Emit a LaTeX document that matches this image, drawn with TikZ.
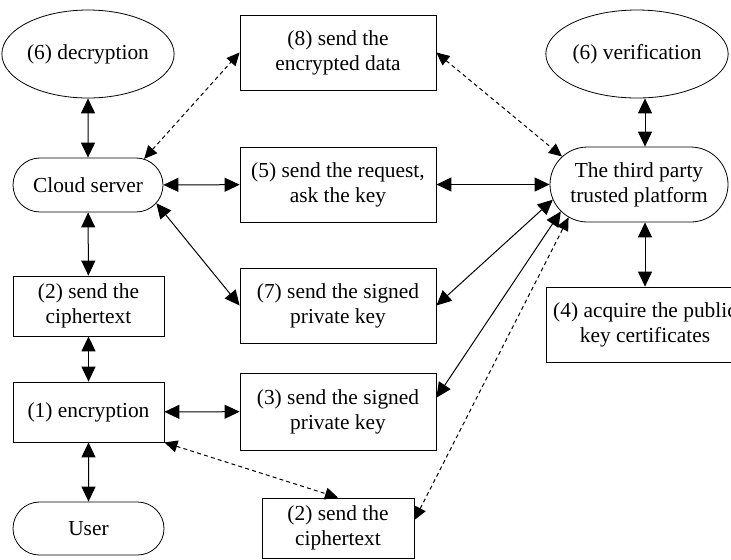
\documentclass[tikz,border=0pt]{standalone}
\usepackage{fontspec}
\setmainfont{Liberation Serif}
\usetikzlibrary{arrows.meta,shapes.geometric,shapes.misc}

\begin{document}
\begin{tikzpicture}[x=0.5pt,y=-0.5pt,
  every node/.style={font=\fontsize{10.7pt}{12.6pt}\selectfont, align=center, inner sep=0pt},
  oval/.style={draw, ellipse, minimum width=75pt, minimum height=44pt},
  pill/.style={draw, rounded rectangle, minimum width=75pt},
  box/.style={draw, rectangle, minimum width=98pt, minimum height=37.5pt},
  smallbox/.style={draw, rectangle, minimum width=75.5pt, minimum height=30pt},
  link/.style={line width=0.5pt, {Triangle[length=7.5pt,width=7pt]}-{Triangle[length=7.5pt,width=7pt]}},
  dlink/.style={line width=0.5pt, dash pattern=on 2pt off 1.6pt,
    {Triangle[length=6.5pt,width=6pt]}-{Triangle[length=6.5pt,width=6pt]}}
]
\useasboundingbox (0,0) rectangle (731,559);

% left column
\node[oval] (dec) at (88,54) {(6) decryption};
\node[pill, minimum height=27pt] (cloud) at (88,185) {Cloud server};
\node[smallbox] (ct) at (88.5,306) {(2) send the\\ciphertext};
\node[smallbox] (enc) at (88.5,412) {(1) encryption};
\node[pill, minimum height=26.5pt, minimum width=75.5pt] (user) at (88.5,528.5) {User};

% middle column
\node[box] (data) at (338,52.5) {(8) send the\\encrypted data};
\node[box] (req) at (338,184.5) {(5) send the request,\\ask the key};
\node[box] (spk) at (338,305.5) {(7) send the signed\\private key};
\node[box, minimum height=38.5pt] (spk2) at (338,411.5) {(3) send the signed\\private key};
\node[smallbox, minimum width=76pt] (ct2) at (338,528) {(2) send the\\ciphertext};

% right column
\node[oval, minimum width=76pt] (ver) at (637,54) {(6) verification};
\node[pill, minimum width=89pt, minimum height=37.5pt] (tp) at (639,184.5) {The third party\\trusted platform};
\node[box, minimum width=99pt] (cert) at (645,324.5) {(4) acquire the public\\key certificates};

% vertical links
\draw[link] (dec) -- (cloud);
\draw[link] (cloud) -- (ct);
\draw[link] (ct) -- (enc);
\draw[link] (enc) -- (user);
\draw[link] (ver.south -| cert.north) -- (tp.north -| cert.north);
\draw[link] (tp.south -| cert.north) -- (cert.north);

% horizontal links
\draw[link] (cloud) -- (req);
\draw[link] (req) -- (tp);
\draw[link] (enc) -- (spk2);

% diagonal links
\draw[link] (cloud.-15) -- (spk.west);
\draw[link] (spk.east) -- (tp.190);
\draw[link] (spk2.8) -- (tp.199);
\draw[dlink] (cloud.25) -- (data.west);
\draw[dlink] (data.east) -- (tp.160);
\draw[dlink] (enc.south east) -- (ct2.north);
\draw[dlink] (ct2.6) -- (tp.205);
\end{tikzpicture}
\end{document}
